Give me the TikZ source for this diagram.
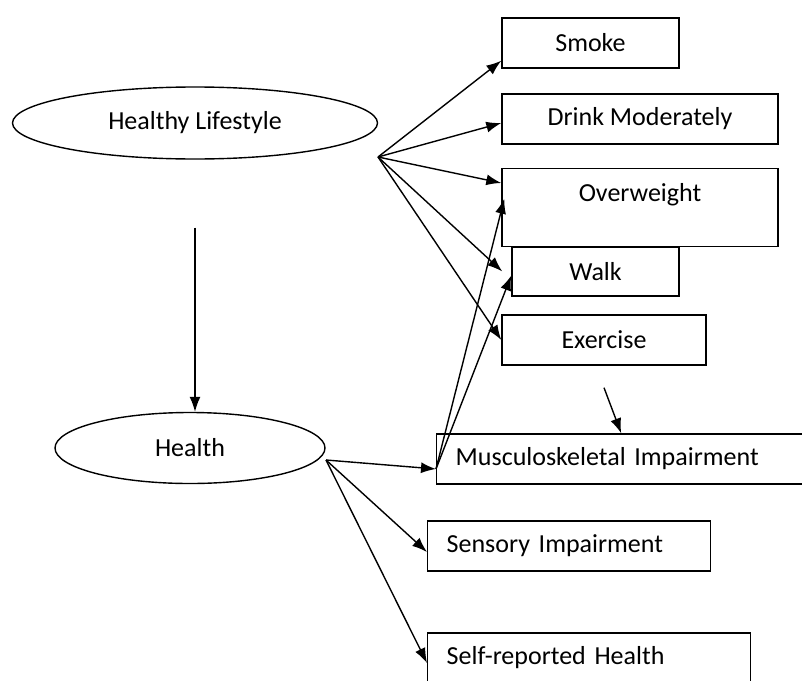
\documentclass[tikz,border=0pt]{standalone}
\usepackage{fontspec}
\setmainfont{Carlito}
\usetikzlibrary{arrows.meta,shapes.geometric}

\begin{document}
\begin{tikzpicture}[x=1pt,y=-1pt,
        font=\fontsize{26}{30}\selectfont,
        latent/.style={draw,ellipse,line width=1.4pt,inner sep=0pt},
        obs/.style={draw,rectangle,line width=1.4pt,inner sep=0pt,minimum height=50pt},
        leftbox/.style={obs,inner xsep=19pt,align=left},
        arr/.style={line width=1.4pt,-{Latex[length=15pt,width=11pt]}}]
    \useasboundingbox (0,0) rectangle (802,680);

    % latent variables
    \node[latent,minimum width=365pt,minimum height=72pt] (hl) at (195,123) {Healthy Lifestyle};
    \node[latent,minimum width=270pt,minimum height=71pt] (health) at (190,448) {Health};

    % lifestyle indicators
    \node[obs,minimum width=177pt] (smoke) at (590.5,43) {Smoke};
    \node[obs,minimum width=276pt] (drink) at (640,119) {Drink Moderately};
    \node[obs,minimum width=276pt,anchor=north,text height=33pt,text depth=45pt] (ow) at (640,168) {Overweight};
    \node[obs,minimum width=167pt,minimum height=49pt] (walk) at (595.5,271.5) {Walk};
    \node[obs,minimum width=204pt] (exercise) at (604,340) {Exercise};

    % health indicators
    \node[leftbox,anchor=west,text width=331pt] (musc) at (436,459) {Musculoskeletal Impairment};
    \node[leftbox,anchor=west,text width=245pt] (sensory) at (427,546) {Sensory Impairment};
    \node[leftbox,anchor=west,text width=285pt] (self) at (427,658) {Self-reported Health};

    \coordinate (hlfan) at (378,157);
    \coordinate (hfan) at (326,460);
    \coordinate (mfan) at ([yshift=-10pt]musc.west);

    \draw[arr] ([yshift=-68pt]hl.south) -- ([xshift=5pt]health.north);

    \draw[arr] (hlfan) -- ([yshift=8pt]smoke.south west);
    \draw[arr] (hlfan) -- ([yshift=-4pt]drink.west);
    \draw[arr] (hlfan) -- ([yshift=-15pt]ow.north west);
    \draw[arr] (hlfan) -- ([xshift=-9pt]walk.west);
    \draw[arr] (hlfan) -- (exercise.west);

    \draw[arr] (mfan) -- ([xshift=3pt,yshift=9pt]ow.west);
    \draw[arr] (mfan) -- ([yshift=-4pt]walk.west);
    \draw[arr] ([yshift=-22pt]exercise.south) -- (musc.north);

    \draw[arr] (hfan) -- (mfan);
    \draw[arr] (hfan) -- ([yshift=-6pt]sensory.west);
    \draw[arr] (hfan) -- ([yshift=-5pt]self.west);
\end{tikzpicture}
\end{document}
